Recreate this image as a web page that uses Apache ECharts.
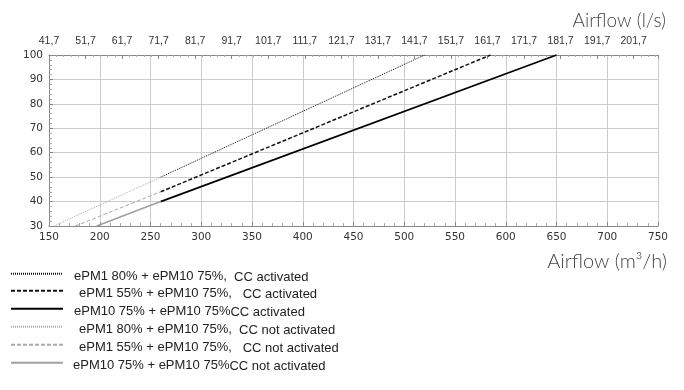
<!DOCTYPE html>
<html><head><meta charset="utf-8">
<script src="https://cdn.jsdelivr.net/npm/echarts@6/dist/echarts.min.js"></script>
<style>html,body{margin:0;padding:0;background:#fff}#c{width:684px;height:390px}</style>
</head><body><div id="c"></div>
<script>
// Data (airflow m3/h, value)
const seriesNames = [
  'ePM1 80% + ePM10 75%, CC activated',
  'ePM1 55% + ePM10 75%, CC activated',
  'ePM10 75% + ePM10 75% CC activated',
  'ePM1 80% + ePM10 75%, CC not activated',
  'ePM1 55% + ePM10 75%, CC not activated',
  'ePM10 75% + ePM10 75% CC not activated'
];
const legendMain = ['ePM1 80% + ePM10 75%,', 'ePM1 55% + ePM10 75%,', 'ePM10 75% + ePM10 75%', 'ePM1 80% + ePM10 75%,', 'ePM1 55% + ePM10 75%,', 'ePM10 75% + ePM10 75%'];
const legendSub = ['  CC activated', '   CC activated', 'CC activated', '  CC not activated', '   CC not activated', 'CC not activated'];
const a80 = [[260, 50], [520, 100]];
const a55 = [[260, 44], [585, 100]];
const a10 = [[260, 40], [650, 100]];
const n80 = [[155, 30], [260, 50]];
const n55 = [[176, 30], [260, 44]];
const n10 = [[197, 30], [260, 40]];
const xMin = 150, xMax = 750, xStep = 50;
const yMin = 30, yMax = 100, yStep = 10;
const m3hPerLs = 3.6;

const chart = echarts.init(document.getElementById('c'));
const styles = [
  {color: '#111', width: 1, type: [1, 1]},
  {color: '#111', width: 1.5, type: [4, 2]},
  {color: '#000', width: 1.8, type: 'solid'},
  {color: '#aaa', width: 1, type: [1, 1]},
  {color: '#aaa', width: 1, type: [4, 2]},
  {color: '#a0a0a0', width: 1.5, type: 'solid'}
];
const datas = [a80, a55, a10, n80, n55, n10];
// [left, top, text padding]
const legendPos = [[10, 269, 6], [10, 286, 11], [10, 304, 6], [10, 322, 11], [10, 340, 11], [10, 358, 5]];
const series = datas.map((d, i) => ({
  name: seriesNames[i], type: 'line', data: d, symbol: 'none', silent: true,
  lineStyle: styles[i], itemStyle: {color: styles[i].color}, xAxisIndex: 0, animation: false
}));
const legends = seriesNames.map((n, i) => ({
  data: [n], left: legendPos[i][0], top: legendPos[i][1], itemWidth: 52, itemHeight: 12,
  itemGap: 0, selectedMode: false, padding: 0, itemStyle: {opacity: 0},
  formatter: () => '{a|' + legendMain[i] + '}{b|' + legendSub[i] + '}',
  textStyle: {padding: [5, 0, 0, legendPos[i][2]], rich: {
    a: {fontFamily: 'Liberation Sans', fontSize: 13, color: '#222'},
    b: {fontFamily: 'Liberation Sans', fontSize: 13, color: '#222', padding: [2, 0, 0, 0]}
  }}
}));
chart.setOption({
  animation: false,
  title: [
    {text: 'Airflow (l/s)', right: 13, top: 6, textStyle: {fontFamily: 'Lato', fontWeight: 300, fontSize: 19, color: '#444'}},
    {text: 'Airflow (m³/h)', right: 12, top: 247, textStyle: {fontFamily: 'Lato', fontWeight: 300, fontSize: 20, color: '#444'}}
  ],
  legend: legends,
  grid: {left: 49, right: 26, top: 55, bottom: 164},
  xAxis: [{
    type: 'value', min: xMin, max: xMax, interval: xStep, position: 'bottom',
    axisLine: {lineStyle: {color: '#888'}},
    axisTick: {inside: true, length: 4, lineStyle: {color: '#888'}},
    minorTick: {show: true, splitNumber: 5, length: 3, lineStyle: {color: '#aaa'}},
    splitLine: {show: true, lineStyle: {color: '#ccc'}},
    axisLabel: {fontFamily: 'DejaVu Sans', fontSize: 10.5, color: '#333', margin: 6}
  }, {
    type: 'value', min: xMin / m3hPerLs, max: xMax / m3hPerLs, interval: 10, position: 'top',
    axisLine: {lineStyle: {color: '#888'}},
    axisTick: {inside: true, length: 4, lineStyle: {color: '#888'}},
    minorTick: {show: true, splitNumber: 5, length: 2, lineStyle: {color: '#aaa'}},
    splitLine: {show: false},
    axisLabel: {fontFamily: 'Liberation Sans', fontSize: 10.5, color: '#333', margin: 8, showMaxLabel: false,
      formatter: v => v.toFixed(1).replace('.', ',')}
  }],
  yAxis: {
    type: 'value', min: yMin, max: yMax, interval: yStep,
    axisLine: {show: true, lineStyle: {color: '#888'}},
    axisTick: {show: true, inside: true, length: 4, lineStyle: {color: '#888'}},
    minorTick: {show: true, splitNumber: 5, length: 3, lineStyle: {color: '#aaa'}},
    splitLine: {show: true, lineStyle: {color: '#ccc'}},
    axisLabel: {fontFamily: 'DejaVu Sans', fontSize: 10.5, color: '#333', margin: 6}
  },
  series: series
});
</script></body></html>
